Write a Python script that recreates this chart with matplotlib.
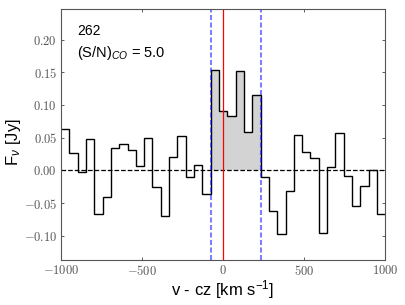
import numpy as np
import matplotlib
matplotlib.use('Agg')
import matplotlib.pyplot as plt
from matplotlib.font_manager import FontProperties
from matplotlib.ticker import FuncFormatter

plt.rcParams['font.family'] = ['Liberation Sans', 'DejaVu Sans']
plt.rcParams['mathtext.fontset'] = 'custom'
plt.rcParams['mathtext.rm'] = 'Liberation Sans'
plt.rcParams['mathtext.it'] = 'Liberation Sans:italic'

# channel edges [km/s] and flux per channel [Jy]
vel_edges = [-1002.0, -950.6, -899.2, -847.8, -796.4, -745.0, -693.6, -642.2,
             -590.8, -539.4, -488.0, -436.6, -385.2, -333.8, -282.4, -231.0,
             -179.6, -128.2, -76.8, -25.4, 26.0, 77.4, 128.8, 180.2, 231.6,
             283.0, 334.4, 385.8, 437.2, 488.6, 540.0, 591.4, 642.8, 694.2,
             745.6, 797.0, 848.4, 899.8, 951.2, 1002.6]
flux = [0.064, 0.026, -0.002, 0.048, -0.066, -0.041, 0.035, 0.041, 0.031,
        0.007, 0.050, -0.025, -0.069, 0.021, 0.052, -0.010, 0.008, -0.036,
        0.154, 0.091, 0.084, 0.152, 0.059, 0.115, -0.010, -0.062, -0.097,
        -0.031, 0.055, 0.028, 0.019, -0.096, 0.005, 0.057, -0.008, -0.054,
        -0.024, 0.000, -0.066]

# line window (channel indices)
line_lo, line_hi = 18, 24
source_id = '262'
snr = 5.0

fig = plt.figure(figsize=(4.06, 3.05), dpi=100)
ax = fig.add_axes([0.151, 0.1475, 0.797, 0.823])

ax.stairs(flux[line_lo:line_hi], vel_edges[line_lo:line_hi + 1], fill=True,
          color='lightgrey', baseline=0)
ax.stairs(flux, vel_edges, baseline=None, color='k', lw=1.0)
ax.axhline(0, color='k', ls='--', lw=0.9)
ax.axvline(0, color='r', lw=0.9)
for v in (vel_edges[line_lo], vel_edges[line_hi]):
    ax.axvline(v, color='b', alpha=0.5, ls='--', lw=1.5, dashes=(2.4, 1.2))

ax.set_xlim(-1000, 1000)
ax.set_ylim(-0.137, 0.247)
ax.set_xticks([-1000, -500, 0, 500, 1000])
ax.set_yticks([-0.10, -0.05, 0.00, 0.05, 0.10, 0.15, 0.20])
ax.xaxis.set_major_formatter(FuncFormatter(lambda x, p: r'$%d$' % x))
ax.yaxis.set_major_formatter(FuncFormatter(lambda y, p: r'$%.2f$' % y))
tickfont = FontProperties(size=9)
tickfont.set_math_fontfamily('cm')
for lab in ax.get_xticklabels() + ax.get_yticklabels():
    lab.set_fontproperties(tickfont)
ax.tick_params(direction='in', top=True, right=True, length=2.5, width=0.6,
               colors='#444444', labelcolor='#555555', pad=3)
for s in ax.spines.values():
    s.set_color('#555555')

ax.set_xlabel(r'v - cz [km s$^{-1}$]', fontsize=12, labelpad=0)
ax.set_ylabel(r'F$_\nu$ [Jy]', fontsize=12)
ax.yaxis.set_label_coords(-0.119, 0.47)
ax.text(0.048, 0.896, source_id, transform=ax.transAxes, fontsize=10)
ax.text(0.048, 0.808, r'(S/N)$_{CO}$ = %.1f' % snr, transform=ax.transAxes,
        fontsize=10.5)

fig.savefig('out.png', dpi=100)
